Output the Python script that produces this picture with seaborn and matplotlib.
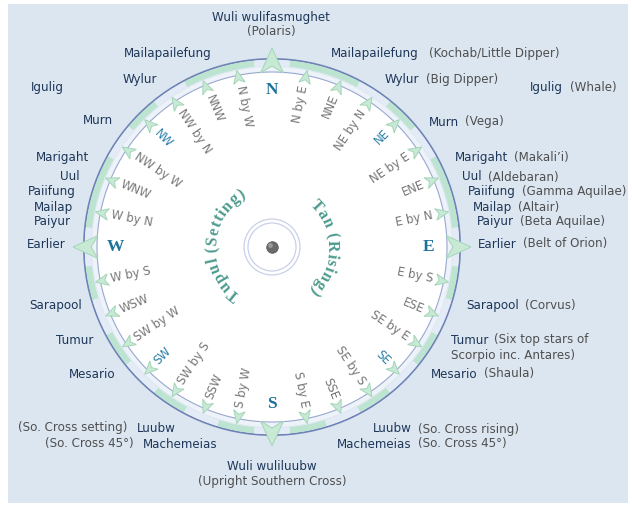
import numpy as np
import matplotlib
matplotlib.use("Agg")
import matplotlib.pyplot as plt
import seaborn as sns
from matplotlib.patches import Wedge, Circle, Polygon, Rectangle
from matplotlib.font_manager import FontProperties
from matplotlib.textpath import TextToPath

# ---------------- data ----------------
points = ["N", "N by E", "NNE", "NE by N", "NE", "NE by E", "ENE", "E by N",
          "E", "E by S", "ESE", "SE by E", "SE", "SE by S", "SSE", "S by E",
          "S", "S by W", "SSW", "SW by S", "SW", "SW by W", "WSW", "W by S",
          "W", "W by N", "WNW", "NW by W", "NW", "NW by N", "NNW", "N by W"]
cardinals = ["N", "E", "S", "W"]
intercardinals = ["NE", "SE", "SW", "NW"]

star_names = ["Mailapailefung", "Wylur", "Igulig", "Murn", "Marigaht", "Uul",
              "Paiifung", "Mailap", "Paiyur", "Earlier", "Sarapool", "Tumur",
              "Mesario", "Luubw", "Machemeias"]
right_meanings = ["(Kochab/Little Dipper)", "(Big Dipper)", "(Whale)", "(Vega)",
                  "(Makali\u2019i)", "(Aldebaran)", "(Gamma Aquilae)", "(Altair)",
                  "(Beta Aquilae)", "(Belt of Orion)", "(Corvus)", "(Six top stars of",
                  "(Shaula)", "(So. Cross rising)", "(So. Cross 45\u00b0)"]
tumur_line2 = "Scorpio inc. Antares)"
left_meanings = {"Luubw": "(So. Cross setting)", "Machemeias": "(So. Cross 45\u00b0)"}

north_star = ["Wuli wulifasmughet", "(Polaris)"]
south_star = ["Wuli wuliluubw", "(Upright Southern Cross)"]
setting_label = "Tupul (Setting)"
rising_label = "Tan (Rising)"

# ring segment boundaries (bearing degrees, east half; mirrored to west)
ring_bounds = [0, 5.5, 28, 39, 50, 61, 84, 96, 106.5, 118, 129, 141, 152, 163, 174.5, 180]

# ---------------- layout (pixels) ----------------
W_PX, H_PX = 632, 505
CX, CY = 272, H_PX - 247
left_x = [212, 157, 64, 113, 89, 80, 76, 73, 71, 66, 82, 93, 116, 176, 218]
left_y = [54, 79, 88, 121, 157, 177, 192, 207, 221, 244, 305, 340, 374, 428, 444]
right_x = [331, 385, 530, 429, 455, 462, 468, 473, 477, 478, 466, 451, 431, 373, 337]
right_y = [54, 79, 88, 122, 157, 177, 192, 207, 221, 244, 305, 340, 374, 429, 444]
right_gap = [10, 6, 7, 6, 6, 6, 6, 6, 6, 6, 6, 6, 6, 6, 6]

BG = "#dce6f1"
NAVY = "#1d3658"
GRAYTXT = "#4f4f4f"
PTGRAY = "#767676"
TEAL = "#2a7fa6"
CURVE = "#4c9b8d"
GREEN = "#bde4d1"
PALE = "#e3ecf6"
ARROW_FC = "#c8ead5"
ARROW_EC = "#a3d5b9"
FS = 8.6

sns.set_theme(style="white")
plt.rcParams["font.family"] = ["DejaVu Sans"]

fig = plt.figure(figsize=(W_PX / 100, H_PX / 100), dpi=100)
fig.patch.set_facecolor("white")
ax = fig.add_axes([0, 0, 1, 1])

def P(b, r):
    t = np.radians(b)
    return CX + r * np.sin(t), CY + r * np.cos(t)

def Y(y):
    return H_PX - y

ax.add_patch(Rectangle((8, 2), 620, 499, facecolor=BG, edgecolor="none", zorder=0))

# ---------------- compass disk ----------------
R = 188
ax.add_patch(Circle((CX, CY), R, facecolor="white", edgecolor="#6f82b6", lw=1.4, zorder=1))
ax.add_patch(Wedge((CX, CY), 180.5, 0, 360, width=5.5, facecolor="#eef3fa", edgecolor="none", zorder=2))
segs = []
for i in range(len(ring_bounds) - 1):
    b1, b2 = ring_bounds[i], ring_bounds[i + 1]
    col = PALE if i % 2 == 0 else GREEN
    segs.append((b1, b2, col))
    segs.append((360 - b2, 360 - b1, col))
for b1, b2, col in segs:
    ax.add_patch(Wedge((CX, CY), 187.3, 90 - b2, 90 - b1, width=6.8,
                       facecolor=col, edgecolor="none", zorder=2))
ax.add_patch(Circle((CX, CY), 180.5, facecolor="none", edgecolor="#dfe7f2", lw=0.8, zorder=3))
ax.add_patch(Circle((CX, CY), 175, facecolor="none", edgecolor="#9aa8d0", lw=0.8, zorder=3))

def arrow(b, rt, L, hw, notch):
    t = np.radians(b)
    u = np.array([np.sin(t), np.cos(t)])
    v = np.array([np.cos(t), -np.sin(t)])
    c = np.array([CX, CY])
    tip = c + rt * u
    base = c + (rt - L) * u
    pts = [tip, base + hw * v, c + (rt - L + notch) * u, base - hw * v]
    ax.add_patch(Polygon(pts, closed=True, facecolor=ARROW_FC, edgecolor=ARROW_EC,
                         lw=0.7, zorder=5))

bearings = np.arange(len(points)) * 360.0 / len(points)

serif_bold = FontProperties(family="Liberation Serif", weight="bold")
for name, b in zip(points, bearings):
    if name in cardinals:
        arrow(b, 199, 25, 11.5, 7)
        x, y = P(b, 157)
        ax.text(x, y, name, fontproperties=serif_bold, fontsize=12.5, color="#1f7399",
                ha="center", va="center", zorder=6)
        continue
    arrow(b, 180, 13, 5.8, 3.5)
    x, y = P(b, 164)
    col = TEAL if name in intercardinals else PTGRAY
    if b < 180:
        rot, ha = 90 - b, "right"
    else:
        rot, ha = 270 - b, "left"
    ax.text(x, y, name, fontsize=8.4, color=col, rotation=rot, rotation_mode="anchor",
            ha=ha, va="center", zorder=6)

# ---------------- center ----------------
ax.add_patch(Circle((CX, CY), 28, facecolor="none", edgecolor="#c9d0e8", lw=0.9, zorder=3))
ax.add_patch(Circle((CX, CY), 24, facecolor="none", edgecolor="#c9d0e8", lw=0.9, zorder=3))
sns.scatterplot(x=[CX], y=[CY], s=70, color="#6a6a6a", edgecolor="#5a5a5a", linewidth=0.5,
                ax=ax, zorder=7, legend=False)
sns.scatterplot(x=[CX - 1.5], y=[CY + 1.5], s=12, color="#9a9a9a", edgecolor="none",
                ax=ax, zorder=8, legend=False)
ax.set_xlim(0, W_PX)
ax.set_ylim(0, H_PX)
ax.axis("off")

# ---------------- curved labels ----------------
ttp = TextToPath()
def curved(text, b_start, b_end, r, size):
    fp = FontProperties(family="Liberation Serif", weight="bold", size=size)
    widths = [ttp.get_text_width_height_descent(text[:i], fp, ismath=False)[0] if i else 0.0
              for i in range(len(text) + 1)]
    total = widths[-1]
    for i, ch in enumerate(text):
        mid = 0.5 * (widths[i] + widths[i + 1]) / total
        b = b_start + mid * (b_end - b_start)
        x, y = P(b, r)
        ax.text(x, y, ch, fontproperties=fp, color=CURVE, rotation=-b,
                rotation_mode="anchor", ha="center", va="center", zorder=6)

curved(setting_label, 213, 333, 60, 11.5)
curved(rising_label, 41, 139, 60, 11.5)

# ---------------- star labels ----------------
fig.canvas.draw()
renderer = fig.canvas.get_renderer()
inv = ax.transData.inverted()

for name, x, y in zip(star_names, left_x, left_y):
    t = ax.text(x, Y(y), name, fontsize=FS, color=NAVY, ha="right", va="center", zorder=6)
    if name in left_meanings:
        bb = t.get_window_extent(renderer)
        x0 = inv.transform((bb.x0, bb.y0))[0]
        ax.text(x0 - 10, Y(y), left_meanings[name], fontsize=FS, color=GRAYTXT,
                ha="right", va="center", zorder=6)

for name, meaning, x, y, g in zip(star_names, right_meanings, right_x, right_y, right_gap):
    t = ax.text(x, Y(y), name, fontsize=FS, color=NAVY, ha="left", va="center", zorder=6)
    bb = t.get_window_extent(renderer)
    x1 = inv.transform((bb.x1, bb.y0))[0]
    ax.text(x1 + g, Y(y), meaning, fontsize=FS, color=GRAYTXT, ha="left", va="center", zorder=6)
    if name == "Tumur":
        ax.text(x, Y(y + 15), tumur_line2, fontsize=FS, color=GRAYTXT, ha="left",
                va="center", zorder=6)

ax.text(CX - 1, Y(17), north_star[0], fontsize=FS, color=NAVY, ha="center", va="center", zorder=6)
ax.text(CX - 1, Y(31), north_star[1], fontsize=FS, color=GRAYTXT, ha="center", va="center", zorder=6)
ax.text(CX, Y(467), south_star[0], fontsize=FS, color=NAVY, ha="center", va="center", zorder=6)
ax.text(CX, Y(482), south_star[1], fontsize=FS, color=GRAYTXT, ha="center", va="center", zorder=6)

fig.savefig("out.png", dpi=100, facecolor="white")
